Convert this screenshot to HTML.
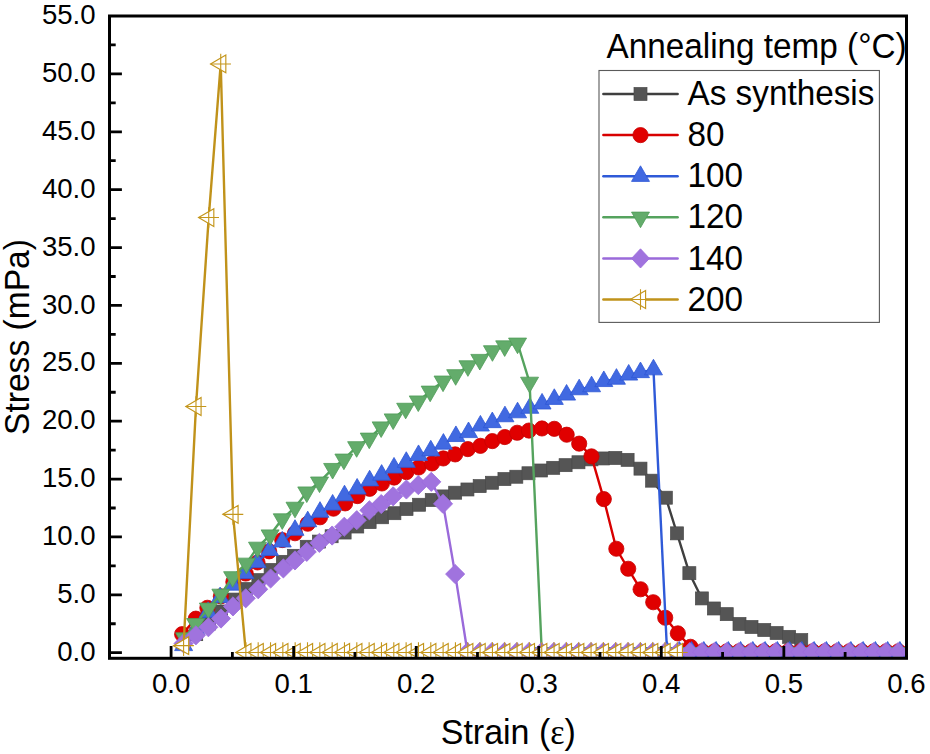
<!DOCTYPE html>
<html><head><meta charset="utf-8"><style>
html,body{margin:0;padding:0;background:#fff;font-family:"Liberation Sans", sans-serif;}
svg{display:block;}
</style></head><body>
<svg width="930" height="754" viewBox="0 0 930 754">
<rect width="930" height="754" fill="#fff"/>
<defs><clipPath id="pc"><rect x="111" y="17.5" width="794" height="639.3"/></clipPath></defs>
<g clip-path="url(#pc)">
<path d="M183.97 641.12 L196.22 634.18 L209.09 623.53 L220.98 611.49 L233.36 599.57 L245.73 589.03 L258.36 580.12 L270.61 569.93 L282.87 561.83 L294.02 555.81 L306.76 546.78 L318.9 541.57 L331.64 536.25 L344.63 532.54 L357.25 526.52 L369.63 522.12 L382.13 517.26 L394.39 513.21 L406.52 509.04 L419.14 504.76 L431.76 500.01 L443.41 496.42 L455.17 492.72 L467.43 489.48 L479.68 486.12 L491.94 482.76 L504.44 479.06 L516.32 476.74 L528.46 473.27 L540.96 470.49 L553.21 467.83 L565.59 465.17 L578.46 462.27 L591.45 459.38 L603.09 458.45 L615.34 457.99 L627.6 459.84 L640.47 468.64 L652.11 480.68 L665.83 497.7 L676.99 533.35 L689.36 573.17 L701.86 598.41 L713.87 608.48 L726.74 614.15 L739.49 623.99 L751.5 627 L764.24 630.01 L776.62 633.02 L789.12 636.84 L801.25 640.08" fill="none" stroke="#3f3f3f" stroke-width="2.4" stroke-linejoin="round"/>
<rect x="177.47" y="634.62" width="13" height="13" fill="#555555" stroke="#4a4a4a" stroke-width="0.7"/>
<rect x="189.72" y="627.68" width="13" height="13" fill="#555555" stroke="#4a4a4a" stroke-width="0.7"/>
<rect x="202.59" y="617.03" width="13" height="13" fill="#555555" stroke="#4a4a4a" stroke-width="0.7"/>
<rect x="214.48" y="604.99" width="13" height="13" fill="#555555" stroke="#4a4a4a" stroke-width="0.7"/>
<rect x="226.86" y="593.07" width="13" height="13" fill="#555555" stroke="#4a4a4a" stroke-width="0.7"/>
<rect x="239.23" y="582.53" width="13" height="13" fill="#555555" stroke="#4a4a4a" stroke-width="0.7"/>
<rect x="251.86" y="573.62" width="13" height="13" fill="#555555" stroke="#4a4a4a" stroke-width="0.7"/>
<rect x="264.11" y="563.43" width="13" height="13" fill="#555555" stroke="#4a4a4a" stroke-width="0.7"/>
<rect x="276.37" y="555.33" width="13" height="13" fill="#555555" stroke="#4a4a4a" stroke-width="0.7"/>
<rect x="287.52" y="549.31" width="13" height="13" fill="#555555" stroke="#4a4a4a" stroke-width="0.7"/>
<rect x="300.26" y="540.28" width="13" height="13" fill="#555555" stroke="#4a4a4a" stroke-width="0.7"/>
<rect x="312.4" y="535.07" width="13" height="13" fill="#555555" stroke="#4a4a4a" stroke-width="0.7"/>
<rect x="325.14" y="529.75" width="13" height="13" fill="#555555" stroke="#4a4a4a" stroke-width="0.7"/>
<rect x="338.13" y="526.04" width="13" height="13" fill="#555555" stroke="#4a4a4a" stroke-width="0.7"/>
<rect x="350.75" y="520.02" width="13" height="13" fill="#555555" stroke="#4a4a4a" stroke-width="0.7"/>
<rect x="363.13" y="515.62" width="13" height="13" fill="#555555" stroke="#4a4a4a" stroke-width="0.7"/>
<rect x="375.63" y="510.76" width="13" height="13" fill="#555555" stroke="#4a4a4a" stroke-width="0.7"/>
<rect x="387.89" y="506.71" width="13" height="13" fill="#555555" stroke="#4a4a4a" stroke-width="0.7"/>
<rect x="400.02" y="502.54" width="13" height="13" fill="#555555" stroke="#4a4a4a" stroke-width="0.7"/>
<rect x="412.64" y="498.26" width="13" height="13" fill="#555555" stroke="#4a4a4a" stroke-width="0.7"/>
<rect x="425.26" y="493.51" width="13" height="13" fill="#555555" stroke="#4a4a4a" stroke-width="0.7"/>
<rect x="436.91" y="489.92" width="13" height="13" fill="#555555" stroke="#4a4a4a" stroke-width="0.7"/>
<rect x="448.67" y="486.22" width="13" height="13" fill="#555555" stroke="#4a4a4a" stroke-width="0.7"/>
<rect x="460.93" y="482.98" width="13" height="13" fill="#555555" stroke="#4a4a4a" stroke-width="0.7"/>
<rect x="473.18" y="479.62" width="13" height="13" fill="#555555" stroke="#4a4a4a" stroke-width="0.7"/>
<rect x="485.44" y="476.26" width="13" height="13" fill="#555555" stroke="#4a4a4a" stroke-width="0.7"/>
<rect x="497.94" y="472.56" width="13" height="13" fill="#555555" stroke="#4a4a4a" stroke-width="0.7"/>
<rect x="509.82" y="470.24" width="13" height="13" fill="#555555" stroke="#4a4a4a" stroke-width="0.7"/>
<rect x="521.96" y="466.77" width="13" height="13" fill="#555555" stroke="#4a4a4a" stroke-width="0.7"/>
<rect x="534.46" y="463.99" width="13" height="13" fill="#555555" stroke="#4a4a4a" stroke-width="0.7"/>
<rect x="546.71" y="461.33" width="13" height="13" fill="#555555" stroke="#4a4a4a" stroke-width="0.7"/>
<rect x="559.09" y="458.67" width="13" height="13" fill="#555555" stroke="#4a4a4a" stroke-width="0.7"/>
<rect x="571.96" y="455.77" width="13" height="13" fill="#555555" stroke="#4a4a4a" stroke-width="0.7"/>
<rect x="584.95" y="452.88" width="13" height="13" fill="#555555" stroke="#4a4a4a" stroke-width="0.7"/>
<rect x="596.59" y="451.95" width="13" height="13" fill="#555555" stroke="#4a4a4a" stroke-width="0.7"/>
<rect x="608.84" y="451.49" width="13" height="13" fill="#555555" stroke="#4a4a4a" stroke-width="0.7"/>
<rect x="621.1" y="453.34" width="13" height="13" fill="#555555" stroke="#4a4a4a" stroke-width="0.7"/>
<rect x="633.97" y="462.14" width="13" height="13" fill="#555555" stroke="#4a4a4a" stroke-width="0.7"/>
<rect x="645.61" y="474.18" width="13" height="13" fill="#555555" stroke="#4a4a4a" stroke-width="0.7"/>
<rect x="659.33" y="491.2" width="13" height="13" fill="#555555" stroke="#4a4a4a" stroke-width="0.7"/>
<rect x="670.49" y="526.85" width="13" height="13" fill="#555555" stroke="#4a4a4a" stroke-width="0.7"/>
<rect x="682.86" y="566.67" width="13" height="13" fill="#555555" stroke="#4a4a4a" stroke-width="0.7"/>
<rect x="695.36" y="591.91" width="13" height="13" fill="#555555" stroke="#4a4a4a" stroke-width="0.7"/>
<rect x="707.37" y="601.98" width="13" height="13" fill="#555555" stroke="#4a4a4a" stroke-width="0.7"/>
<rect x="720.24" y="607.65" width="13" height="13" fill="#555555" stroke="#4a4a4a" stroke-width="0.7"/>
<rect x="732.99" y="617.49" width="13" height="13" fill="#555555" stroke="#4a4a4a" stroke-width="0.7"/>
<rect x="745" y="620.5" width="13" height="13" fill="#555555" stroke="#4a4a4a" stroke-width="0.7"/>
<rect x="757.74" y="623.51" width="13" height="13" fill="#555555" stroke="#4a4a4a" stroke-width="0.7"/>
<rect x="770.12" y="626.52" width="13" height="13" fill="#555555" stroke="#4a4a4a" stroke-width="0.7"/>
<rect x="782.62" y="630.34" width="13" height="13" fill="#555555" stroke="#4a4a4a" stroke-width="0.7"/>
<rect x="794.75" y="633.58" width="13" height="13" fill="#555555" stroke="#4a4a4a" stroke-width="0.7"/>
<path d="M182.13 634.18 L195.86 618.67 L207.37 607.79 L220.86 596.32 L233.36 581.97 L245.73 573.52 L257.5 562.41 L269.14 551.29 L282.25 540.07 L295 533.24 L307.74 523.74 L320 517.26 L333.48 508.69 L345.12 503.37 L357.38 496.08 L369.63 488.78 L381.89 483.46 L394.14 477.56 L406.4 472.11 L418.65 467.48 L432.01 463.43 L443.28 458.45 L455.17 454.4 L467.79 449.08 L480.42 445.84 L492.3 441.09 L504.8 437.04 L517.18 432.76 L528.95 430.56 L541.94 428.47 L554.31 428.82 L566.69 434.72 L579.19 443.64 L591.45 456.37 L603.82 499.09 L616.32 548.75 L628.21 568.77 L640.59 589.26 L653.21 602.23 L665.22 617.74 L677.84 633.37 L690.47 646.8 L702.35 651.31 L714.61 651.31 L726.86 651.31 L739.12 651.31 L751.37 651.31 L763.63 651.31 L775.88 651.31 L788.14 651.31 L800.39 651.31 L812.65 651.31 L824.9 651.31 L837.16 651.31 L849.41 651.31 L861.67 651.31 L873.92 651.31 L886.18 651.31 L898.43 651.31 L910.69 651.31 L922.94 651.31" fill="none" stroke="#d80000" stroke-width="2.4" stroke-linejoin="round"/>
<circle cx="182.13" cy="634.18" r="7.6" fill="#e00000" stroke="#c80000" stroke-width="0.8"/>
<circle cx="195.86" cy="618.67" r="7.6" fill="#e00000" stroke="#c80000" stroke-width="0.8"/>
<circle cx="207.37" cy="607.79" r="7.6" fill="#e00000" stroke="#c80000" stroke-width="0.8"/>
<circle cx="220.86" cy="596.32" r="7.6" fill="#e00000" stroke="#c80000" stroke-width="0.8"/>
<circle cx="233.36" cy="581.97" r="7.6" fill="#e00000" stroke="#c80000" stroke-width="0.8"/>
<circle cx="245.73" cy="573.52" r="7.6" fill="#e00000" stroke="#c80000" stroke-width="0.8"/>
<circle cx="257.5" cy="562.41" r="7.6" fill="#e00000" stroke="#c80000" stroke-width="0.8"/>
<circle cx="269.14" cy="551.29" r="7.6" fill="#e00000" stroke="#c80000" stroke-width="0.8"/>
<circle cx="282.25" cy="540.07" r="7.6" fill="#e00000" stroke="#c80000" stroke-width="0.8"/>
<circle cx="295" cy="533.24" r="7.6" fill="#e00000" stroke="#c80000" stroke-width="0.8"/>
<circle cx="307.74" cy="523.74" r="7.6" fill="#e00000" stroke="#c80000" stroke-width="0.8"/>
<circle cx="320" cy="517.26" r="7.6" fill="#e00000" stroke="#c80000" stroke-width="0.8"/>
<circle cx="333.48" cy="508.69" r="7.6" fill="#e00000" stroke="#c80000" stroke-width="0.8"/>
<circle cx="345.12" cy="503.37" r="7.6" fill="#e00000" stroke="#c80000" stroke-width="0.8"/>
<circle cx="357.38" cy="496.08" r="7.6" fill="#e00000" stroke="#c80000" stroke-width="0.8"/>
<circle cx="369.63" cy="488.78" r="7.6" fill="#e00000" stroke="#c80000" stroke-width="0.8"/>
<circle cx="381.89" cy="483.46" r="7.6" fill="#e00000" stroke="#c80000" stroke-width="0.8"/>
<circle cx="394.14" cy="477.56" r="7.6" fill="#e00000" stroke="#c80000" stroke-width="0.8"/>
<circle cx="406.4" cy="472.11" r="7.6" fill="#e00000" stroke="#c80000" stroke-width="0.8"/>
<circle cx="418.65" cy="467.48" r="7.6" fill="#e00000" stroke="#c80000" stroke-width="0.8"/>
<circle cx="432.01" cy="463.43" r="7.6" fill="#e00000" stroke="#c80000" stroke-width="0.8"/>
<circle cx="443.28" cy="458.45" r="7.6" fill="#e00000" stroke="#c80000" stroke-width="0.8"/>
<circle cx="455.17" cy="454.4" r="7.6" fill="#e00000" stroke="#c80000" stroke-width="0.8"/>
<circle cx="467.79" cy="449.08" r="7.6" fill="#e00000" stroke="#c80000" stroke-width="0.8"/>
<circle cx="480.42" cy="445.84" r="7.6" fill="#e00000" stroke="#c80000" stroke-width="0.8"/>
<circle cx="492.3" cy="441.09" r="7.6" fill="#e00000" stroke="#c80000" stroke-width="0.8"/>
<circle cx="504.8" cy="437.04" r="7.6" fill="#e00000" stroke="#c80000" stroke-width="0.8"/>
<circle cx="517.18" cy="432.76" r="7.6" fill="#e00000" stroke="#c80000" stroke-width="0.8"/>
<circle cx="528.95" cy="430.56" r="7.6" fill="#e00000" stroke="#c80000" stroke-width="0.8"/>
<circle cx="541.94" cy="428.47" r="7.6" fill="#e00000" stroke="#c80000" stroke-width="0.8"/>
<circle cx="554.31" cy="428.82" r="7.6" fill="#e00000" stroke="#c80000" stroke-width="0.8"/>
<circle cx="566.69" cy="434.72" r="7.6" fill="#e00000" stroke="#c80000" stroke-width="0.8"/>
<circle cx="579.19" cy="443.64" r="7.6" fill="#e00000" stroke="#c80000" stroke-width="0.8"/>
<circle cx="591.45" cy="456.37" r="7.6" fill="#e00000" stroke="#c80000" stroke-width="0.8"/>
<circle cx="603.82" cy="499.09" r="7.6" fill="#e00000" stroke="#c80000" stroke-width="0.8"/>
<circle cx="616.32" cy="548.75" r="7.6" fill="#e00000" stroke="#c80000" stroke-width="0.8"/>
<circle cx="628.21" cy="568.77" r="7.6" fill="#e00000" stroke="#c80000" stroke-width="0.8"/>
<circle cx="640.59" cy="589.26" r="7.6" fill="#e00000" stroke="#c80000" stroke-width="0.8"/>
<circle cx="653.21" cy="602.23" r="7.6" fill="#e00000" stroke="#c80000" stroke-width="0.8"/>
<circle cx="665.22" cy="617.74" r="7.6" fill="#e00000" stroke="#c80000" stroke-width="0.8"/>
<circle cx="677.84" cy="633.37" r="7.6" fill="#e00000" stroke="#c80000" stroke-width="0.8"/>
<circle cx="690.47" cy="646.8" r="7.6" fill="#e00000" stroke="#c80000" stroke-width="0.8"/>
<circle cx="702.35" cy="651.31" r="7.6" fill="#e00000" stroke="#c80000" stroke-width="0.8"/>
<circle cx="714.61" cy="651.31" r="7.6" fill="#e00000" stroke="#c80000" stroke-width="0.8"/>
<circle cx="726.86" cy="651.31" r="7.6" fill="#e00000" stroke="#c80000" stroke-width="0.8"/>
<circle cx="739.12" cy="651.31" r="7.6" fill="#e00000" stroke="#c80000" stroke-width="0.8"/>
<circle cx="751.37" cy="651.31" r="7.6" fill="#e00000" stroke="#c80000" stroke-width="0.8"/>
<circle cx="763.63" cy="651.31" r="7.6" fill="#e00000" stroke="#c80000" stroke-width="0.8"/>
<circle cx="775.88" cy="651.31" r="7.6" fill="#e00000" stroke="#c80000" stroke-width="0.8"/>
<circle cx="788.14" cy="651.31" r="7.6" fill="#e00000" stroke="#c80000" stroke-width="0.8"/>
<circle cx="800.39" cy="651.31" r="7.6" fill="#e00000" stroke="#c80000" stroke-width="0.8"/>
<circle cx="812.65" cy="651.31" r="7.6" fill="#e00000" stroke="#c80000" stroke-width="0.8"/>
<circle cx="824.9" cy="651.31" r="7.6" fill="#e00000" stroke="#c80000" stroke-width="0.8"/>
<circle cx="837.16" cy="651.31" r="7.6" fill="#e00000" stroke="#c80000" stroke-width="0.8"/>
<circle cx="849.41" cy="651.31" r="7.6" fill="#e00000" stroke="#c80000" stroke-width="0.8"/>
<circle cx="861.67" cy="651.31" r="7.6" fill="#e00000" stroke="#c80000" stroke-width="0.8"/>
<circle cx="873.92" cy="651.31" r="7.6" fill="#e00000" stroke="#c80000" stroke-width="0.8"/>
<circle cx="886.18" cy="651.31" r="7.6" fill="#e00000" stroke="#c80000" stroke-width="0.8"/>
<circle cx="898.43" cy="651.31" r="7.6" fill="#e00000" stroke="#c80000" stroke-width="0.8"/>
<circle cx="910.69" cy="651.31" r="7.6" fill="#e00000" stroke="#c80000" stroke-width="0.8"/>
<circle cx="922.94" cy="651.31" r="7.6" fill="#e00000" stroke="#c80000" stroke-width="0.8"/>
<path d="M183.6 645.41 L195.86 629.55 L208.11 612.18 L220.12 597.48 L232.62 584.98 L244.88 573.4 L257.13 562.41 L269.51 550.25 L282.25 541.8 L295 530.11 L307.74 521.54 L320 512.05 L332.62 504.87 L344.51 495.61 L357.13 488.9 L369.63 480.68 L381.64 475.01 L394.02 467.83 L406.27 462.16 L418.53 455.33 L430.78 450.7 L443.41 443.98 L455.91 436.34 L468.53 432.41 L480.42 425.81 L492.3 422.45 L504.93 416.55 L517.55 412.61 L529.8 408.1 L542.06 403.82 L554.31 399.19 L566.57 394.9 L579.19 389.58 L591.57 386.57 L603.82 381.36 L616.45 379.04 L628.7 374.88 L640.47 372.45 L653.46 369.67 L667.06 651.89 L679.31 651.89 L691.57 651.89 L703.82 651.89 L716.08 651.89 L728.33 651.89 L740.59 651.89 L752.84 651.89 L765.1 651.89 L777.35 651.89 L789.61 651.89 L801.86 651.89 L814.12 651.89 L826.37 651.89 L838.63 651.89 L850.88 651.89 L863.14 651.89 L875.39 651.89 L887.65 651.89 L899.9 651.89 L912.16 651.89" fill="none" stroke="#2f5ad8" stroke-width="2.4" stroke-linejoin="round"/>
<polygon points="183.6,635.01 192.6,650.61 174.6,650.61" fill="#4169e1" stroke="#2f58d6" stroke-width="0.8"/>
<polygon points="195.86,619.15 204.86,634.75 186.86,634.75" fill="#4169e1" stroke="#2f58d6" stroke-width="0.8"/>
<polygon points="208.11,601.78 217.11,617.38 199.11,617.38" fill="#4169e1" stroke="#2f58d6" stroke-width="0.8"/>
<polygon points="220.12,587.08 229.12,602.68 211.12,602.68" fill="#4169e1" stroke="#2f58d6" stroke-width="0.8"/>
<polygon points="232.62,574.58 241.62,590.18 223.62,590.18" fill="#4169e1" stroke="#2f58d6" stroke-width="0.8"/>
<polygon points="244.88,563 253.88,578.6 235.88,578.6" fill="#4169e1" stroke="#2f58d6" stroke-width="0.8"/>
<polygon points="257.13,552.01 266.13,567.61 248.13,567.61" fill="#4169e1" stroke="#2f58d6" stroke-width="0.8"/>
<polygon points="269.51,539.85 278.51,555.45 260.51,555.45" fill="#4169e1" stroke="#2f58d6" stroke-width="0.8"/>
<polygon points="282.25,531.4 291.25,547 273.25,547" fill="#4169e1" stroke="#2f58d6" stroke-width="0.8"/>
<polygon points="295,519.71 304,535.31 286,535.31" fill="#4169e1" stroke="#2f58d6" stroke-width="0.8"/>
<polygon points="307.74,511.14 316.74,526.74 298.74,526.74" fill="#4169e1" stroke="#2f58d6" stroke-width="0.8"/>
<polygon points="320,501.65 329,517.25 311,517.25" fill="#4169e1" stroke="#2f58d6" stroke-width="0.8"/>
<polygon points="332.62,494.47 341.62,510.07 323.62,510.07" fill="#4169e1" stroke="#2f58d6" stroke-width="0.8"/>
<polygon points="344.51,485.21 353.51,500.81 335.51,500.81" fill="#4169e1" stroke="#2f58d6" stroke-width="0.8"/>
<polygon points="357.13,478.5 366.13,494.1 348.13,494.1" fill="#4169e1" stroke="#2f58d6" stroke-width="0.8"/>
<polygon points="369.63,470.28 378.63,485.88 360.63,485.88" fill="#4169e1" stroke="#2f58d6" stroke-width="0.8"/>
<polygon points="381.64,464.61 390.64,480.21 372.64,480.21" fill="#4169e1" stroke="#2f58d6" stroke-width="0.8"/>
<polygon points="394.02,457.43 403.02,473.03 385.02,473.03" fill="#4169e1" stroke="#2f58d6" stroke-width="0.8"/>
<polygon points="406.27,451.76 415.27,467.36 397.27,467.36" fill="#4169e1" stroke="#2f58d6" stroke-width="0.8"/>
<polygon points="418.53,444.93 427.53,460.53 409.53,460.53" fill="#4169e1" stroke="#2f58d6" stroke-width="0.8"/>
<polygon points="430.78,440.3 439.78,455.9 421.78,455.9" fill="#4169e1" stroke="#2f58d6" stroke-width="0.8"/>
<polygon points="443.41,433.58 452.41,449.18 434.41,449.18" fill="#4169e1" stroke="#2f58d6" stroke-width="0.8"/>
<polygon points="455.91,425.94 464.91,441.54 446.91,441.54" fill="#4169e1" stroke="#2f58d6" stroke-width="0.8"/>
<polygon points="468.53,422.01 477.53,437.61 459.53,437.61" fill="#4169e1" stroke="#2f58d6" stroke-width="0.8"/>
<polygon points="480.42,415.41 489.42,431.01 471.42,431.01" fill="#4169e1" stroke="#2f58d6" stroke-width="0.8"/>
<polygon points="492.3,412.05 501.3,427.65 483.3,427.65" fill="#4169e1" stroke="#2f58d6" stroke-width="0.8"/>
<polygon points="504.93,406.15 513.93,421.75 495.93,421.75" fill="#4169e1" stroke="#2f58d6" stroke-width="0.8"/>
<polygon points="517.55,402.21 526.55,417.81 508.55,417.81" fill="#4169e1" stroke="#2f58d6" stroke-width="0.8"/>
<polygon points="529.8,397.7 538.8,413.3 520.8,413.3" fill="#4169e1" stroke="#2f58d6" stroke-width="0.8"/>
<polygon points="542.06,393.42 551.06,409.02 533.06,409.02" fill="#4169e1" stroke="#2f58d6" stroke-width="0.8"/>
<polygon points="554.31,388.79 563.31,404.39 545.31,404.39" fill="#4169e1" stroke="#2f58d6" stroke-width="0.8"/>
<polygon points="566.57,384.5 575.57,400.1 557.57,400.1" fill="#4169e1" stroke="#2f58d6" stroke-width="0.8"/>
<polygon points="579.19,379.18 588.19,394.78 570.19,394.78" fill="#4169e1" stroke="#2f58d6" stroke-width="0.8"/>
<polygon points="591.57,376.17 600.57,391.77 582.57,391.77" fill="#4169e1" stroke="#2f58d6" stroke-width="0.8"/>
<polygon points="603.82,370.96 612.82,386.56 594.82,386.56" fill="#4169e1" stroke="#2f58d6" stroke-width="0.8"/>
<polygon points="616.45,368.64 625.45,384.24 607.45,384.24" fill="#4169e1" stroke="#2f58d6" stroke-width="0.8"/>
<polygon points="628.7,364.48 637.7,380.08 619.7,380.08" fill="#4169e1" stroke="#2f58d6" stroke-width="0.8"/>
<polygon points="640.47,362.05 649.47,377.65 631.47,377.65" fill="#4169e1" stroke="#2f58d6" stroke-width="0.8"/>
<polygon points="653.46,359.27 662.46,374.87 644.46,374.87" fill="#4169e1" stroke="#2f58d6" stroke-width="0.8"/>
<polygon points="667.06,641.49 676.06,657.09 658.06,657.09" fill="#4169e1" stroke="#2f58d6" stroke-width="0.8"/>
<polygon points="679.31,641.49 688.31,657.09 670.31,657.09" fill="#4169e1" stroke="#2f58d6" stroke-width="0.8"/>
<polygon points="691.57,641.49 700.57,657.09 682.57,657.09" fill="#4169e1" stroke="#2f58d6" stroke-width="0.8"/>
<polygon points="703.82,641.49 712.82,657.09 694.82,657.09" fill="#4169e1" stroke="#2f58d6" stroke-width="0.8"/>
<polygon points="716.08,641.49 725.08,657.09 707.08,657.09" fill="#4169e1" stroke="#2f58d6" stroke-width="0.8"/>
<polygon points="728.33,641.49 737.33,657.09 719.33,657.09" fill="#4169e1" stroke="#2f58d6" stroke-width="0.8"/>
<polygon points="740.59,641.49 749.59,657.09 731.59,657.09" fill="#4169e1" stroke="#2f58d6" stroke-width="0.8"/>
<polygon points="752.84,641.49 761.84,657.09 743.84,657.09" fill="#4169e1" stroke="#2f58d6" stroke-width="0.8"/>
<polygon points="765.1,641.49 774.1,657.09 756.1,657.09" fill="#4169e1" stroke="#2f58d6" stroke-width="0.8"/>
<polygon points="777.35,641.49 786.35,657.09 768.35,657.09" fill="#4169e1" stroke="#2f58d6" stroke-width="0.8"/>
<polygon points="789.61,641.49 798.61,657.09 780.61,657.09" fill="#4169e1" stroke="#2f58d6" stroke-width="0.8"/>
<polygon points="801.86,641.49 810.86,657.09 792.86,657.09" fill="#4169e1" stroke="#2f58d6" stroke-width="0.8"/>
<polygon points="814.12,641.49 823.12,657.09 805.12,657.09" fill="#4169e1" stroke="#2f58d6" stroke-width="0.8"/>
<polygon points="826.37,641.49 835.37,657.09 817.37,657.09" fill="#4169e1" stroke="#2f58d6" stroke-width="0.8"/>
<polygon points="838.63,641.49 847.63,657.09 829.63,657.09" fill="#4169e1" stroke="#2f58d6" stroke-width="0.8"/>
<polygon points="850.88,641.49 859.88,657.09 841.88,657.09" fill="#4169e1" stroke="#2f58d6" stroke-width="0.8"/>
<polygon points="863.14,641.49 872.14,657.09 854.14,657.09" fill="#4169e1" stroke="#2f58d6" stroke-width="0.8"/>
<polygon points="875.39,641.49 884.39,657.09 866.39,657.09" fill="#4169e1" stroke="#2f58d6" stroke-width="0.8"/>
<polygon points="887.65,641.49 896.65,657.09 878.65,657.09" fill="#4169e1" stroke="#2f58d6" stroke-width="0.8"/>
<polygon points="899.9,641.49 908.9,657.09 890.9,657.09" fill="#4169e1" stroke="#2f58d6" stroke-width="0.8"/>
<polygon points="912.16,641.49 921.16,657.09 903.16,657.09" fill="#4169e1" stroke="#2f58d6" stroke-width="0.8"/>
<path d="M184.58 638 L195.61 623.76 L208.36 608.25 L220.86 594.36 L232.62 576.88 L246.35 563.33 L257.5 547.36 L270.12 535.09 L282.25 519 L295 507.42 L306.76 492.14 L319.51 482.19 L332.62 468.64 L343.9 459.27 L356.64 446.88 L369.26 438.31 L381.15 427.08 L393.16 419.1 L405.66 408.45 L418.28 401.15 L430.17 391.31 L443.04 381.24 L455.66 374.88 L467.92 365.96 L479.8 359.6 L492.43 350.91 L504.68 346.05 L517.55 343.27 L529.56 382.4 L541.81 652.7 L554.07 652.7 L566.32 652.7 L578.58 652.7 L590.83 652.7 L603.09 652.7 L615.34 652.7 L627.6 652.7 L639.85 652.7 L652.11 652.7 L664.36 652.7 L676.62 652.7 L688.87 652.7 L701.13 652.7 L713.38 652.7 L725.64 652.7 L737.89 652.7 L750.15 652.7 L762.4 652.7 L774.66 652.7 L786.91 652.7 L799.17 652.7 L811.42 652.7 L823.68 652.7 L835.93 652.7 L848.19 652.7 L860.44 652.7 L872.7 652.7 L884.95 652.7 L897.21 652.7 L909.46 652.7" fill="none" stroke="#55a35e" stroke-width="2.4" stroke-linejoin="round"/>
<polygon points="184.58,648.4 193.58,632.8 175.58,632.8" fill="#63ac6b" stroke="#4f9c58" stroke-width="0.8"/>
<polygon points="195.61,634.16 204.61,618.56 186.61,618.56" fill="#63ac6b" stroke="#4f9c58" stroke-width="0.8"/>
<polygon points="208.36,618.65 217.36,603.05 199.36,603.05" fill="#63ac6b" stroke="#4f9c58" stroke-width="0.8"/>
<polygon points="220.86,604.76 229.86,589.16 211.86,589.16" fill="#63ac6b" stroke="#4f9c58" stroke-width="0.8"/>
<polygon points="232.62,587.28 241.62,571.68 223.62,571.68" fill="#63ac6b" stroke="#4f9c58" stroke-width="0.8"/>
<polygon points="246.35,573.73 255.35,558.13 237.35,558.13" fill="#63ac6b" stroke="#4f9c58" stroke-width="0.8"/>
<polygon points="257.5,557.76 266.5,542.16 248.5,542.16" fill="#63ac6b" stroke="#4f9c58" stroke-width="0.8"/>
<polygon points="270.12,545.49 279.12,529.89 261.12,529.89" fill="#63ac6b" stroke="#4f9c58" stroke-width="0.8"/>
<polygon points="282.25,529.4 291.25,513.8 273.25,513.8" fill="#63ac6b" stroke="#4f9c58" stroke-width="0.8"/>
<polygon points="295,517.82 304,502.22 286,502.22" fill="#63ac6b" stroke="#4f9c58" stroke-width="0.8"/>
<polygon points="306.76,502.54 315.76,486.94 297.76,486.94" fill="#63ac6b" stroke="#4f9c58" stroke-width="0.8"/>
<polygon points="319.51,492.59 328.51,476.99 310.51,476.99" fill="#63ac6b" stroke="#4f9c58" stroke-width="0.8"/>
<polygon points="332.62,479.04 341.62,463.44 323.62,463.44" fill="#63ac6b" stroke="#4f9c58" stroke-width="0.8"/>
<polygon points="343.9,469.67 352.9,454.07 334.9,454.07" fill="#63ac6b" stroke="#4f9c58" stroke-width="0.8"/>
<polygon points="356.64,457.28 365.64,441.68 347.64,441.68" fill="#63ac6b" stroke="#4f9c58" stroke-width="0.8"/>
<polygon points="369.26,448.71 378.26,433.11 360.26,433.11" fill="#63ac6b" stroke="#4f9c58" stroke-width="0.8"/>
<polygon points="381.15,437.48 390.15,421.88 372.15,421.88" fill="#63ac6b" stroke="#4f9c58" stroke-width="0.8"/>
<polygon points="393.16,429.5 402.16,413.9 384.16,413.9" fill="#63ac6b" stroke="#4f9c58" stroke-width="0.8"/>
<polygon points="405.66,418.85 414.66,403.25 396.66,403.25" fill="#63ac6b" stroke="#4f9c58" stroke-width="0.8"/>
<polygon points="418.28,411.55 427.28,395.95 409.28,395.95" fill="#63ac6b" stroke="#4f9c58" stroke-width="0.8"/>
<polygon points="430.17,401.71 439.17,386.11 421.17,386.11" fill="#63ac6b" stroke="#4f9c58" stroke-width="0.8"/>
<polygon points="443.04,391.64 452.04,376.04 434.04,376.04" fill="#63ac6b" stroke="#4f9c58" stroke-width="0.8"/>
<polygon points="455.66,385.28 464.66,369.68 446.66,369.68" fill="#63ac6b" stroke="#4f9c58" stroke-width="0.8"/>
<polygon points="467.92,376.36 476.92,360.76 458.92,360.76" fill="#63ac6b" stroke="#4f9c58" stroke-width="0.8"/>
<polygon points="479.8,370 488.8,354.4 470.8,354.4" fill="#63ac6b" stroke="#4f9c58" stroke-width="0.8"/>
<polygon points="492.43,361.31 501.43,345.71 483.43,345.71" fill="#63ac6b" stroke="#4f9c58" stroke-width="0.8"/>
<polygon points="504.68,356.45 513.68,340.85 495.68,340.85" fill="#63ac6b" stroke="#4f9c58" stroke-width="0.8"/>
<polygon points="517.55,353.67 526.55,338.07 508.55,338.07" fill="#63ac6b" stroke="#4f9c58" stroke-width="0.8"/>
<polygon points="529.56,392.8 538.56,377.2 520.56,377.2" fill="#63ac6b" stroke="#4f9c58" stroke-width="0.8"/>
<polygon points="541.81,663.1 550.81,647.5 532.81,647.5" fill="#63ac6b" stroke="#4f9c58" stroke-width="0.8"/>
<polygon points="554.07,663.1 563.07,647.5 545.07,647.5" fill="#63ac6b" stroke="#4f9c58" stroke-width="0.8"/>
<polygon points="566.32,663.1 575.32,647.5 557.32,647.5" fill="#63ac6b" stroke="#4f9c58" stroke-width="0.8"/>
<polygon points="578.58,663.1 587.58,647.5 569.58,647.5" fill="#63ac6b" stroke="#4f9c58" stroke-width="0.8"/>
<polygon points="590.83,663.1 599.83,647.5 581.83,647.5" fill="#63ac6b" stroke="#4f9c58" stroke-width="0.8"/>
<polygon points="603.09,663.1 612.09,647.5 594.09,647.5" fill="#63ac6b" stroke="#4f9c58" stroke-width="0.8"/>
<polygon points="615.34,663.1 624.34,647.5 606.34,647.5" fill="#63ac6b" stroke="#4f9c58" stroke-width="0.8"/>
<polygon points="627.6,663.1 636.6,647.5 618.6,647.5" fill="#63ac6b" stroke="#4f9c58" stroke-width="0.8"/>
<polygon points="639.85,663.1 648.85,647.5 630.85,647.5" fill="#63ac6b" stroke="#4f9c58" stroke-width="0.8"/>
<polygon points="652.11,663.1 661.11,647.5 643.11,647.5" fill="#63ac6b" stroke="#4f9c58" stroke-width="0.8"/>
<polygon points="664.36,663.1 673.36,647.5 655.36,647.5" fill="#63ac6b" stroke="#4f9c58" stroke-width="0.8"/>
<polygon points="676.62,663.1 685.62,647.5 667.62,647.5" fill="#63ac6b" stroke="#4f9c58" stroke-width="0.8"/>
<polygon points="688.87,663.1 697.87,647.5 679.87,647.5" fill="#63ac6b" stroke="#4f9c58" stroke-width="0.8"/>
<polygon points="701.13,663.1 710.13,647.5 692.13,647.5" fill="#63ac6b" stroke="#4f9c58" stroke-width="0.8"/>
<polygon points="713.38,663.1 722.38,647.5 704.38,647.5" fill="#63ac6b" stroke="#4f9c58" stroke-width="0.8"/>
<polygon points="725.64,663.1 734.64,647.5 716.64,647.5" fill="#63ac6b" stroke="#4f9c58" stroke-width="0.8"/>
<polygon points="737.89,663.1 746.89,647.5 728.89,647.5" fill="#63ac6b" stroke="#4f9c58" stroke-width="0.8"/>
<polygon points="750.15,663.1 759.15,647.5 741.15,647.5" fill="#63ac6b" stroke="#4f9c58" stroke-width="0.8"/>
<polygon points="762.4,663.1 771.4,647.5 753.4,647.5" fill="#63ac6b" stroke="#4f9c58" stroke-width="0.8"/>
<polygon points="774.66,663.1 783.66,647.5 765.66,647.5" fill="#63ac6b" stroke="#4f9c58" stroke-width="0.8"/>
<polygon points="786.91,663.1 795.91,647.5 777.91,647.5" fill="#63ac6b" stroke="#4f9c58" stroke-width="0.8"/>
<polygon points="799.17,663.1 808.17,647.5 790.17,647.5" fill="#63ac6b" stroke="#4f9c58" stroke-width="0.8"/>
<polygon points="811.42,663.1 820.42,647.5 802.42,647.5" fill="#63ac6b" stroke="#4f9c58" stroke-width="0.8"/>
<polygon points="823.68,663.1 832.68,647.5 814.68,647.5" fill="#63ac6b" stroke="#4f9c58" stroke-width="0.8"/>
<polygon points="835.93,663.1 844.93,647.5 826.93,647.5" fill="#63ac6b" stroke="#4f9c58" stroke-width="0.8"/>
<polygon points="848.19,663.1 857.19,647.5 839.19,647.5" fill="#63ac6b" stroke="#4f9c58" stroke-width="0.8"/>
<polygon points="860.44,663.1 869.44,647.5 851.44,647.5" fill="#63ac6b" stroke="#4f9c58" stroke-width="0.8"/>
<polygon points="872.7,663.1 881.7,647.5 863.7,647.5" fill="#63ac6b" stroke="#4f9c58" stroke-width="0.8"/>
<polygon points="884.95,663.1 893.95,647.5 875.95,647.5" fill="#63ac6b" stroke="#4f9c58" stroke-width="0.8"/>
<polygon points="897.21,663.1 906.21,647.5 888.21,647.5" fill="#63ac6b" stroke="#4f9c58" stroke-width="0.8"/>
<polygon points="909.46,663.1 918.46,647.5 900.46,647.5" fill="#63ac6b" stroke="#4f9c58" stroke-width="0.8"/>
<path d="M183.6 643.44 L195.86 635.34 L208.36 627.23 L220.98 618.55 L232.99 606.4 L245.73 598.29 L258.23 589.26 L270.61 578.5 L283.36 568.43 L295 560.44 L306.76 551.87 L319.39 542.84 L332.13 535.55 L344.26 526.75 L356.76 520.15 L369.39 510.32 L381.27 504.06 L393.16 496.31 L406.4 489.48 L418.28 485.08 L431.27 481.84 L443.04 503.83 L455.17 574.1 L467.43 652.01 L479.68 652.01 L492.04 652.01 L504.41 652.01 L516.77 652.01 L529.13 652.01 L541.5 652.01 L553.86 652.01 L566.22 652.01 L578.59 652.01 L590.95 652.01 L603.31 652.01 L615.68 652.01 L628.04 652.01 L640.4 652.01 L652.76 652.01 L665.13 652.01 L677.49 652.01 L689.85 652.01 L702.11 652.01 L714.36 652.01 L726.62 652.01 L738.87 652.01 L751.13 652.01 L763.38 652.01 L775.64 652.01 L787.89 652.01 L800.15 652.01 L812.4 652.01 L824.66 652.01 L836.91 652.01 L849.17 652.01 L861.42 652.01 L873.68 652.01 L885.93 652.01 L898.19 652.01 L910.44 652.01 L922.7 652.01" fill="none" stroke="#9a6ada" stroke-width="2.4" stroke-linejoin="round"/>
<polygon points="183.6,633.84 193.2,643.44 183.6,653.04 174,643.44" fill="#a073de" stroke="#9c6cdd" stroke-width="0.8"/>
<polygon points="195.86,625.74 205.46,635.34 195.86,644.94 186.26,635.34" fill="#a073de" stroke="#9c6cdd" stroke-width="0.8"/>
<polygon points="208.36,617.63 217.96,627.23 208.36,636.83 198.76,627.23" fill="#a073de" stroke="#9c6cdd" stroke-width="0.8"/>
<polygon points="220.98,608.95 230.58,618.55 220.98,628.15 211.38,618.55" fill="#a073de" stroke="#9c6cdd" stroke-width="0.8"/>
<polygon points="232.99,596.8 242.59,606.4 232.99,616 223.39,606.4" fill="#a073de" stroke="#9c6cdd" stroke-width="0.8"/>
<polygon points="245.73,588.69 255.33,598.29 245.73,607.89 236.13,598.29" fill="#a073de" stroke="#9c6cdd" stroke-width="0.8"/>
<polygon points="258.23,579.66 267.83,589.26 258.23,598.86 248.63,589.26" fill="#a073de" stroke="#9c6cdd" stroke-width="0.8"/>
<polygon points="270.61,568.9 280.21,578.5 270.61,588.1 261.01,578.5" fill="#a073de" stroke="#9c6cdd" stroke-width="0.8"/>
<polygon points="283.36,558.83 292.96,568.43 283.36,578.03 273.76,568.43" fill="#a073de" stroke="#9c6cdd" stroke-width="0.8"/>
<polygon points="295,550.84 304.6,560.44 295,570.04 285.4,560.44" fill="#a073de" stroke="#9c6cdd" stroke-width="0.8"/>
<polygon points="306.76,542.27 316.36,551.87 306.76,561.47 297.16,551.87" fill="#a073de" stroke="#9c6cdd" stroke-width="0.8"/>
<polygon points="319.39,533.24 328.99,542.84 319.39,552.44 309.79,542.84" fill="#a073de" stroke="#9c6cdd" stroke-width="0.8"/>
<polygon points="332.13,525.95 341.73,535.55 332.13,545.15 322.53,535.55" fill="#a073de" stroke="#9c6cdd" stroke-width="0.8"/>
<polygon points="344.26,517.15 353.86,526.75 344.26,536.35 334.66,526.75" fill="#a073de" stroke="#9c6cdd" stroke-width="0.8"/>
<polygon points="356.76,510.55 366.36,520.15 356.76,529.75 347.16,520.15" fill="#a073de" stroke="#9c6cdd" stroke-width="0.8"/>
<polygon points="369.39,500.72 378.99,510.32 369.39,519.92 359.79,510.32" fill="#a073de" stroke="#9c6cdd" stroke-width="0.8"/>
<polygon points="381.27,494.46 390.87,504.06 381.27,513.66 371.67,504.06" fill="#a073de" stroke="#9c6cdd" stroke-width="0.8"/>
<polygon points="393.16,486.71 402.76,496.31 393.16,505.91 383.56,496.31" fill="#a073de" stroke="#9c6cdd" stroke-width="0.8"/>
<polygon points="406.4,479.88 416,489.48 406.4,499.08 396.8,489.48" fill="#a073de" stroke="#9c6cdd" stroke-width="0.8"/>
<polygon points="418.28,475.48 427.88,485.08 418.28,494.68 408.68,485.08" fill="#a073de" stroke="#9c6cdd" stroke-width="0.8"/>
<polygon points="431.27,472.24 440.87,481.84 431.27,491.44 421.67,481.84" fill="#a073de" stroke="#9c6cdd" stroke-width="0.8"/>
<polygon points="443.04,494.23 452.64,503.83 443.04,513.43 433.44,503.83" fill="#a073de" stroke="#9c6cdd" stroke-width="0.8"/>
<polygon points="455.17,564.5 464.77,574.1 455.17,583.7 445.57,574.1" fill="#a073de" stroke="#9c6cdd" stroke-width="0.8"/>
<polygon points="467.43,642.41 477.03,652.01 467.43,661.61 457.83,652.01" fill="#a073de" stroke="#9c6cdd" stroke-width="0.8"/>
<polygon points="479.68,642.41 489.28,652.01 479.68,661.61 470.08,652.01" fill="#a073de" stroke="#9c6cdd" stroke-width="0.8"/>
<polygon points="492.04,642.41 501.64,652.01 492.04,661.61 482.44,652.01" fill="#a073de" stroke="#9c6cdd" stroke-width="0.8"/>
<polygon points="504.41,642.41 514.01,652.01 504.41,661.61 494.81,652.01" fill="#a073de" stroke="#9c6cdd" stroke-width="0.8"/>
<polygon points="516.77,642.41 526.37,652.01 516.77,661.61 507.17,652.01" fill="#a073de" stroke="#9c6cdd" stroke-width="0.8"/>
<polygon points="529.13,642.41 538.73,652.01 529.13,661.61 519.53,652.01" fill="#a073de" stroke="#9c6cdd" stroke-width="0.8"/>
<polygon points="541.5,642.41 551.1,652.01 541.5,661.61 531.9,652.01" fill="#a073de" stroke="#9c6cdd" stroke-width="0.8"/>
<polygon points="553.86,642.41 563.46,652.01 553.86,661.61 544.26,652.01" fill="#a073de" stroke="#9c6cdd" stroke-width="0.8"/>
<polygon points="566.22,642.41 575.82,652.01 566.22,661.61 556.62,652.01" fill="#a073de" stroke="#9c6cdd" stroke-width="0.8"/>
<polygon points="578.59,642.41 588.19,652.01 578.59,661.61 568.99,652.01" fill="#a073de" stroke="#9c6cdd" stroke-width="0.8"/>
<polygon points="590.95,642.41 600.55,652.01 590.95,661.61 581.35,652.01" fill="#a073de" stroke="#9c6cdd" stroke-width="0.8"/>
<polygon points="603.31,642.41 612.91,652.01 603.31,661.61 593.71,652.01" fill="#a073de" stroke="#9c6cdd" stroke-width="0.8"/>
<polygon points="615.68,642.41 625.28,652.01 615.68,661.61 606.08,652.01" fill="#a073de" stroke="#9c6cdd" stroke-width="0.8"/>
<polygon points="628.04,642.41 637.64,652.01 628.04,661.61 618.44,652.01" fill="#a073de" stroke="#9c6cdd" stroke-width="0.8"/>
<polygon points="640.4,642.41 650,652.01 640.4,661.61 630.8,652.01" fill="#a073de" stroke="#9c6cdd" stroke-width="0.8"/>
<polygon points="652.76,642.41 662.36,652.01 652.76,661.61 643.16,652.01" fill="#a073de" stroke="#9c6cdd" stroke-width="0.8"/>
<polygon points="665.13,642.41 674.73,652.01 665.13,661.61 655.53,652.01" fill="#a073de" stroke="#9c6cdd" stroke-width="0.8"/>
<polygon points="677.49,642.41 687.09,652.01 677.49,661.61 667.89,652.01" fill="#a073de" stroke="#9c6cdd" stroke-width="0.8"/>
<polygon points="689.85,642.41 699.45,652.01 689.85,661.61 680.25,652.01" fill="#a073de" stroke="#9c6cdd" stroke-width="0.8"/>
<polygon points="702.11,642.41 711.71,652.01 702.11,661.61 692.51,652.01" fill="#a073de" stroke="#9c6cdd" stroke-width="0.8"/>
<polygon points="714.36,642.41 723.96,652.01 714.36,661.61 704.76,652.01" fill="#a073de" stroke="#9c6cdd" stroke-width="0.8"/>
<polygon points="726.62,642.41 736.22,652.01 726.62,661.61 717.02,652.01" fill="#a073de" stroke="#9c6cdd" stroke-width="0.8"/>
<polygon points="738.87,642.41 748.47,652.01 738.87,661.61 729.27,652.01" fill="#a073de" stroke="#9c6cdd" stroke-width="0.8"/>
<polygon points="751.13,642.41 760.73,652.01 751.13,661.61 741.53,652.01" fill="#a073de" stroke="#9c6cdd" stroke-width="0.8"/>
<polygon points="763.38,642.41 772.98,652.01 763.38,661.61 753.78,652.01" fill="#a073de" stroke="#9c6cdd" stroke-width="0.8"/>
<polygon points="775.64,642.41 785.24,652.01 775.64,661.61 766.04,652.01" fill="#a073de" stroke="#9c6cdd" stroke-width="0.8"/>
<polygon points="787.89,642.41 797.49,652.01 787.89,661.61 778.29,652.01" fill="#a073de" stroke="#9c6cdd" stroke-width="0.8"/>
<polygon points="800.15,642.41 809.75,652.01 800.15,661.61 790.55,652.01" fill="#a073de" stroke="#9c6cdd" stroke-width="0.8"/>
<polygon points="812.4,642.41 822,652.01 812.4,661.61 802.8,652.01" fill="#a073de" stroke="#9c6cdd" stroke-width="0.8"/>
<polygon points="824.66,642.41 834.26,652.01 824.66,661.61 815.06,652.01" fill="#a073de" stroke="#9c6cdd" stroke-width="0.8"/>
<polygon points="836.91,642.41 846.51,652.01 836.91,661.61 827.31,652.01" fill="#a073de" stroke="#9c6cdd" stroke-width="0.8"/>
<polygon points="849.17,642.41 858.77,652.01 849.17,661.61 839.57,652.01" fill="#a073de" stroke="#9c6cdd" stroke-width="0.8"/>
<polygon points="861.42,642.41 871.02,652.01 861.42,661.61 851.82,652.01" fill="#a073de" stroke="#9c6cdd" stroke-width="0.8"/>
<polygon points="873.68,642.41 883.28,652.01 873.68,661.61 864.08,652.01" fill="#a073de" stroke="#9c6cdd" stroke-width="0.8"/>
<polygon points="885.93,642.41 895.53,652.01 885.93,661.61 876.33,652.01" fill="#a073de" stroke="#9c6cdd" stroke-width="0.8"/>
<polygon points="898.19,642.41 907.79,652.01 898.19,661.61 888.59,652.01" fill="#a073de" stroke="#9c6cdd" stroke-width="0.8"/>
<polygon points="910.44,642.41 920.04,652.01 910.44,661.61 900.84,652.01" fill="#a073de" stroke="#9c6cdd" stroke-width="0.8"/>
<polygon points="922.7,642.41 932.3,652.01 922.7,661.61 913.1,652.01" fill="#a073de" stroke="#9c6cdd" stroke-width="0.8"/>
<path d="M183.6 645.64 L195.98 406.48 L208.72 217.56 L220.73 63.94 L232.99 514.37 L245.86 652.47 L258.18 652.47 L270.51 652.47 L282.84 652.47 L295.17 652.47 L307.5 652.47 L319.83 652.47 L332.16 652.47 L344.48 652.47 L356.81 652.47 L369.14 652.47 L381.47 652.47 L393.8 652.47 L406.13 652.47 L418.45 652.47 L430.78 652.47 L443.11 652.47 L455.44 652.47 L467.77 652.47 L480.1 652.47 L492.43 652.47 L504.75 652.47 L517.08 652.47 L529.41 652.47 L541.74 652.47 L554.07 652.47 L566.4 652.47 L578.73 652.47 L591.05 652.47 L603.38 652.47 L615.71 652.47 L628.04 652.47 L640.37 652.47 L652.7 652.47 L665.03 652.47 L677.35 652.47" fill="none" stroke="#c0921a" stroke-width="2.4" stroke-linejoin="round"/>
<polygon points="173.4,645.64 188.7,636.74 188.7,654.54" fill="#fff" stroke="#c4961c" stroke-width="1.15" stroke-linejoin="miter"/><path d="M173.4 645.64H193.9M183.6 635.34V655.94" stroke="#c4961c" stroke-width="1.1"/>
<polygon points="185.78,406.48 201.08,397.58 201.08,415.38" fill="#fff" stroke="#c4961c" stroke-width="1.15" stroke-linejoin="miter"/><path d="M185.78 406.48H206.28M195.98 396.18V416.78" stroke="#c4961c" stroke-width="1.1"/>
<polygon points="198.52,217.56 213.82,208.66 213.82,226.46" fill="#fff" stroke="#c4961c" stroke-width="1.15" stroke-linejoin="miter"/><path d="M198.52 217.56H219.02M208.72 207.26V227.86" stroke="#c4961c" stroke-width="1.1"/>
<polygon points="210.53,63.94 225.83,55.04 225.83,72.84" fill="#fff" stroke="#c4961c" stroke-width="1.15" stroke-linejoin="miter"/><path d="M210.53 63.94H231.03M220.73 53.64V74.24" stroke="#c4961c" stroke-width="1.1"/>
<polygon points="222.79,514.37 238.09,505.47 238.09,523.27" fill="#fff" stroke="#c4961c" stroke-width="1.15" stroke-linejoin="miter"/><path d="M222.79 514.37H243.29M232.99 504.07V524.67" stroke="#c4961c" stroke-width="1.1"/>
<polygon points="235.66,652.47 250.96,643.57 250.96,661.37" fill="#fff" stroke="#c4961c" stroke-width="1.15" stroke-linejoin="miter"/><path d="M235.66 652.47H256.16M245.86 642.17V662.77" stroke="#c4961c" stroke-width="1.1"/>
<polygon points="247.98,652.47 263.28,643.57 263.28,661.37" fill="#fff" stroke="#c4961c" stroke-width="1.15" stroke-linejoin="miter"/><path d="M247.98 652.47H268.48M258.18 642.17V662.77" stroke="#c4961c" stroke-width="1.1"/>
<polygon points="260.31,652.47 275.61,643.57 275.61,661.37" fill="#fff" stroke="#c4961c" stroke-width="1.15" stroke-linejoin="miter"/><path d="M260.31 652.47H280.81M270.51 642.17V662.77" stroke="#c4961c" stroke-width="1.1"/>
<polygon points="272.64,652.47 287.94,643.57 287.94,661.37" fill="#fff" stroke="#c4961c" stroke-width="1.15" stroke-linejoin="miter"/><path d="M272.64 652.47H293.14M282.84 642.17V662.77" stroke="#c4961c" stroke-width="1.1"/>
<polygon points="284.97,652.47 300.27,643.57 300.27,661.37" fill="#fff" stroke="#c4961c" stroke-width="1.15" stroke-linejoin="miter"/><path d="M284.97 652.47H305.47M295.17 642.17V662.77" stroke="#c4961c" stroke-width="1.1"/>
<polygon points="297.3,652.47 312.6,643.57 312.6,661.37" fill="#fff" stroke="#c4961c" stroke-width="1.15" stroke-linejoin="miter"/><path d="M297.3 652.47H317.8M307.5 642.17V662.77" stroke="#c4961c" stroke-width="1.1"/>
<polygon points="309.63,652.47 324.93,643.57 324.93,661.37" fill="#fff" stroke="#c4961c" stroke-width="1.15" stroke-linejoin="miter"/><path d="M309.63 652.47H330.13M319.83 642.17V662.77" stroke="#c4961c" stroke-width="1.1"/>
<polygon points="321.96,652.47 337.26,643.57 337.26,661.37" fill="#fff" stroke="#c4961c" stroke-width="1.15" stroke-linejoin="miter"/><path d="M321.96 652.47H342.46M332.16 642.17V662.77" stroke="#c4961c" stroke-width="1.1"/>
<polygon points="334.28,652.47 349.58,643.57 349.58,661.37" fill="#fff" stroke="#c4961c" stroke-width="1.15" stroke-linejoin="miter"/><path d="M334.28 652.47H354.78M344.48 642.17V662.77" stroke="#c4961c" stroke-width="1.1"/>
<polygon points="346.61,652.47 361.91,643.57 361.91,661.37" fill="#fff" stroke="#c4961c" stroke-width="1.15" stroke-linejoin="miter"/><path d="M346.61 652.47H367.11M356.81 642.17V662.77" stroke="#c4961c" stroke-width="1.1"/>
<polygon points="358.94,652.47 374.24,643.57 374.24,661.37" fill="#fff" stroke="#c4961c" stroke-width="1.15" stroke-linejoin="miter"/><path d="M358.94 652.47H379.44M369.14 642.17V662.77" stroke="#c4961c" stroke-width="1.1"/>
<polygon points="371.27,652.47 386.57,643.57 386.57,661.37" fill="#fff" stroke="#c4961c" stroke-width="1.15" stroke-linejoin="miter"/><path d="M371.27 652.47H391.77M381.47 642.17V662.77" stroke="#c4961c" stroke-width="1.1"/>
<polygon points="383.6,652.47 398.9,643.57 398.9,661.37" fill="#fff" stroke="#c4961c" stroke-width="1.15" stroke-linejoin="miter"/><path d="M383.6 652.47H404.1M393.8 642.17V662.77" stroke="#c4961c" stroke-width="1.1"/>
<polygon points="395.93,652.47 411.23,643.57 411.23,661.37" fill="#fff" stroke="#c4961c" stroke-width="1.15" stroke-linejoin="miter"/><path d="M395.93 652.47H416.43M406.13 642.17V662.77" stroke="#c4961c" stroke-width="1.1"/>
<polygon points="408.25,652.47 423.55,643.57 423.55,661.37" fill="#fff" stroke="#c4961c" stroke-width="1.15" stroke-linejoin="miter"/><path d="M408.25 652.47H428.75M418.45 642.17V662.77" stroke="#c4961c" stroke-width="1.1"/>
<polygon points="420.58,652.47 435.88,643.57 435.88,661.37" fill="#fff" stroke="#c4961c" stroke-width="1.15" stroke-linejoin="miter"/><path d="M420.58 652.47H441.08M430.78 642.17V662.77" stroke="#c4961c" stroke-width="1.1"/>
<polygon points="432.91,652.47 448.21,643.57 448.21,661.37" fill="#fff" stroke="#c4961c" stroke-width="1.15" stroke-linejoin="miter"/><path d="M432.91 652.47H453.41M443.11 642.17V662.77" stroke="#c4961c" stroke-width="1.1"/>
<polygon points="445.24,652.47 460.54,643.57 460.54,661.37" fill="#fff" stroke="#c4961c" stroke-width="1.15" stroke-linejoin="miter"/><path d="M445.24 652.47H465.74M455.44 642.17V662.77" stroke="#c4961c" stroke-width="1.1"/>
<polygon points="457.57,652.47 472.87,643.57 472.87,661.37" fill="#fff" stroke="#c4961c" stroke-width="1.15" stroke-linejoin="miter"/><path d="M457.57 652.47H478.07M467.77 642.17V662.77" stroke="#c4961c" stroke-width="1.1"/>
<polygon points="469.9,652.47 485.2,643.57 485.2,661.37" fill="#fff" stroke="#c4961c" stroke-width="1.15" stroke-linejoin="miter"/><path d="M469.9 652.47H490.4M480.1 642.17V662.77" stroke="#c4961c" stroke-width="1.1"/>
<polygon points="482.23,652.47 497.53,643.57 497.53,661.37" fill="#fff" stroke="#c4961c" stroke-width="1.15" stroke-linejoin="miter"/><path d="M482.23 652.47H502.73M492.43 642.17V662.77" stroke="#c4961c" stroke-width="1.1"/>
<polygon points="494.55,652.47 509.85,643.57 509.85,661.37" fill="#fff" stroke="#c4961c" stroke-width="1.15" stroke-linejoin="miter"/><path d="M494.55 652.47H515.05M504.75 642.17V662.77" stroke="#c4961c" stroke-width="1.1"/>
<polygon points="506.88,652.47 522.18,643.57 522.18,661.37" fill="#fff" stroke="#c4961c" stroke-width="1.15" stroke-linejoin="miter"/><path d="M506.88 652.47H527.38M517.08 642.17V662.77" stroke="#c4961c" stroke-width="1.1"/>
<polygon points="519.21,652.47 534.51,643.57 534.51,661.37" fill="#fff" stroke="#c4961c" stroke-width="1.15" stroke-linejoin="miter"/><path d="M519.21 652.47H539.71M529.41 642.17V662.77" stroke="#c4961c" stroke-width="1.1"/>
<polygon points="531.54,652.47 546.84,643.57 546.84,661.37" fill="#fff" stroke="#c4961c" stroke-width="1.15" stroke-linejoin="miter"/><path d="M531.54 652.47H552.04M541.74 642.17V662.77" stroke="#c4961c" stroke-width="1.1"/>
<polygon points="543.87,652.47 559.17,643.57 559.17,661.37" fill="#fff" stroke="#c4961c" stroke-width="1.15" stroke-linejoin="miter"/><path d="M543.87 652.47H564.37M554.07 642.17V662.77" stroke="#c4961c" stroke-width="1.1"/>
<polygon points="556.2,652.47 571.5,643.57 571.5,661.37" fill="#fff" stroke="#c4961c" stroke-width="1.15" stroke-linejoin="miter"/><path d="M556.2 652.47H576.7M566.4 642.17V662.77" stroke="#c4961c" stroke-width="1.1"/>
<polygon points="568.53,652.47 583.83,643.57 583.83,661.37" fill="#fff" stroke="#c4961c" stroke-width="1.15" stroke-linejoin="miter"/><path d="M568.53 652.47H589.03M578.73 642.17V662.77" stroke="#c4961c" stroke-width="1.1"/>
<polygon points="580.85,652.47 596.15,643.57 596.15,661.37" fill="#fff" stroke="#c4961c" stroke-width="1.15" stroke-linejoin="miter"/><path d="M580.85 652.47H601.35M591.05 642.17V662.77" stroke="#c4961c" stroke-width="1.1"/>
<polygon points="593.18,652.47 608.48,643.57 608.48,661.37" fill="#fff" stroke="#c4961c" stroke-width="1.15" stroke-linejoin="miter"/><path d="M593.18 652.47H613.68M603.38 642.17V662.77" stroke="#c4961c" stroke-width="1.1"/>
<polygon points="605.51,652.47 620.81,643.57 620.81,661.37" fill="#fff" stroke="#c4961c" stroke-width="1.15" stroke-linejoin="miter"/><path d="M605.51 652.47H626.01M615.71 642.17V662.77" stroke="#c4961c" stroke-width="1.1"/>
<polygon points="617.84,652.47 633.14,643.57 633.14,661.37" fill="#fff" stroke="#c4961c" stroke-width="1.15" stroke-linejoin="miter"/><path d="M617.84 652.47H638.34M628.04 642.17V662.77" stroke="#c4961c" stroke-width="1.1"/>
<polygon points="630.17,652.47 645.47,643.57 645.47,661.37" fill="#fff" stroke="#c4961c" stroke-width="1.15" stroke-linejoin="miter"/><path d="M630.17 652.47H650.67M640.37 642.17V662.77" stroke="#c4961c" stroke-width="1.1"/>
<polygon points="642.5,652.47 657.8,643.57 657.8,661.37" fill="#fff" stroke="#c4961c" stroke-width="1.15" stroke-linejoin="miter"/><path d="M642.5 652.47H663M652.7 642.17V662.77" stroke="#c4961c" stroke-width="1.1"/>
<polygon points="654.83,652.47 670.13,643.57 670.13,661.37" fill="#fff" stroke="#c4961c" stroke-width="1.15" stroke-linejoin="miter"/><path d="M654.83 652.47H675.33M665.03 642.17V662.77" stroke="#c4961c" stroke-width="1.1"/>
<polygon points="667.15,652.47 682.45,643.57 682.45,661.37" fill="#fff" stroke="#c4961c" stroke-width="1.15" stroke-linejoin="miter"/><path d="M667.15 652.47H687.65M677.35 642.17V662.77" stroke="#c4961c" stroke-width="1.1"/>
</g>
<path d="M171.1 658.3V646M293.65 658.3V646M416.2 658.3V646M538.75 658.3V646M661.3 658.3V646M783.85 658.3V646M906.4 658.3V646M232.38 658.3V652.1M354.93 658.3V652.1M477.48 658.3V652.1M600.03 658.3V652.1M722.58 658.3V652.1M845.13 658.3V652.1M109.5 652.7H121.9M109.5 594.82H121.9M109.5 536.94H121.9M109.5 479.06H121.9M109.5 421.18H121.9M109.5 363.3H121.9M109.5 305.42H121.9M109.5 247.54H121.9M109.5 189.66H121.9M109.5 131.78H121.9M109.5 73.9H121.9M109.5 623.76H115.7M109.5 565.88H115.7M109.5 508H115.7M109.5 450.12H115.7M109.5 392.24H115.7M109.5 334.36H115.7M109.5 276.48H115.7M109.5 218.6H115.7M109.5 160.72H115.7M109.5 102.84H115.7M109.5 44.96H115.7" stroke="#000" stroke-width="2.8" fill="none"/>
<rect x="109.5" y="16.0" width="797.0" height="642.3" fill="none" stroke="#000" stroke-width="3"/>
<g font-family="'Liberation Sans', sans-serif" font-size="27.6" fill="#000"><text x="95.6" y="660.8" text-anchor="end" transform="matrix(1 0 0 1.03 0 -19.82)">0.0</text><text x="95.6" y="602.92" text-anchor="end" transform="matrix(1 0 0 1.03 0 -18.09)">5.0</text><text x="95.6" y="545.04" text-anchor="end" transform="matrix(1 0 0 1.03 0 -16.35)">10.0</text><text x="95.6" y="487.16" text-anchor="end" transform="matrix(1 0 0 1.03 0 -14.61)">15.0</text><text x="95.6" y="429.28" text-anchor="end" transform="matrix(1 0 0 1.03 0 -12.88)">20.0</text><text x="95.6" y="371.4" text-anchor="end" transform="matrix(1 0 0 1.03 0 -11.14)">25.0</text><text x="95.6" y="313.52" text-anchor="end" transform="matrix(1 0 0 1.03 0 -9.41)">30.0</text><text x="95.6" y="255.64" text-anchor="end" transform="matrix(1 0 0 1.03 0 -7.67)">35.0</text><text x="95.6" y="197.76" text-anchor="end" transform="matrix(1 0 0 1.03 0 -5.93)">40.0</text><text x="95.6" y="139.88" text-anchor="end" transform="matrix(1 0 0 1.03 0 -4.2)">45.0</text><text x="95.6" y="82" text-anchor="end" transform="matrix(1 0 0 1.03 0 -2.46)">50.0</text><text x="95.6" y="24.12" text-anchor="end" transform="matrix(1 0 0 1.03 0 -0.72)">55.0</text><text x="171.1" y="692.8" text-anchor="middle" transform="matrix(1 0 0 1.03 0 -20.78)">0.0</text><text x="293.65" y="692.8" text-anchor="middle" transform="matrix(1 0 0 1.03 0 -20.78)">0.1</text><text x="416.2" y="692.8" text-anchor="middle" transform="matrix(1 0 0 1.03 0 -20.78)">0.2</text><text x="538.75" y="692.8" text-anchor="middle" transform="matrix(1 0 0 1.03 0 -20.78)">0.3</text><text x="661.3" y="692.8" text-anchor="middle" transform="matrix(1 0 0 1.03 0 -20.78)">0.4</text><text x="783.85" y="692.8" text-anchor="middle" transform="matrix(1 0 0 1.03 0 -20.78)">0.5</text><text x="906.4" y="692.8" text-anchor="middle" transform="matrix(1 0 0 1.03 0 -20.78)">0.6</text></g>
<text x="508.3" y="744.2" text-anchor="middle" font-family="'Liberation Sans', sans-serif" font-size="34" transform="matrix(1 0 0 1.03 0 -22.33)">Strain (<tspan font-family="'Liberation Serif', serif">ε</tspan>)</text>
<text transform="translate(28.5 337) rotate(-90) scale(1 1.03)" x="0" y="0" text-anchor="middle" font-family="'Liberation Sans', sans-serif" font-size="33.6">Stress (mPa)</text>
<rect x="599" y="70.5" width="280.4" height="251.9" fill="#fff" stroke="#5a5a5a" stroke-width="1.1"/>
<text x="606.5" y="58" font-family="'Liberation Sans', sans-serif" font-size="33.3" transform="matrix(1 0 0 1.03 0 -1.74)">Annealing temp (°C)</text>
<path d="M603.4 94H677.6" stroke="#3f3f3f" stroke-width="2.5" stroke-linecap="round"/>
<rect x="634" y="87.5" width="13" height="13" fill="#555555" stroke="#4a4a4a" stroke-width="0.7"/>
<text x="687.5" y="105.2" font-family="'Liberation Sans', sans-serif" font-size="33.3" transform="matrix(1 0 0 1.03 0 -3.16)">As synthesis</text>
<path d="M603.4 135.1H677.6" stroke="#d80000" stroke-width="2.5" stroke-linecap="round"/>
<circle cx="640.5" cy="135.1" r="7.6" fill="#e00000" stroke="#c80000" stroke-width="0.8"/>
<text x="687.5" y="146.3" font-family="'Liberation Sans', sans-serif" font-size="33.3" transform="matrix(1 0 0 1.03 0 -4.39)">80</text>
<path d="M603.4 176.2H677.6" stroke="#2f5ad8" stroke-width="2.5" stroke-linecap="round"/>
<polygon points="640.5,165.8 649.5,181.4 631.5,181.4" fill="#4169e1" stroke="#2f58d6" stroke-width="0.8"/>
<text x="687.5" y="187.4" font-family="'Liberation Sans', sans-serif" font-size="33.3" transform="matrix(1 0 0 1.03 0 -5.62)">100</text>
<path d="M603.4 217.3H677.6" stroke="#55a35e" stroke-width="2.5" stroke-linecap="round"/>
<polygon points="640.5,227.7 649.5,212.1 631.5,212.1" fill="#63ac6b" stroke="#4f9c58" stroke-width="0.8"/>
<text x="687.5" y="228.5" font-family="'Liberation Sans', sans-serif" font-size="33.3" transform="matrix(1 0 0 1.03 0 -6.86)">120</text>
<path d="M603.4 258.4H677.6" stroke="#9a6ada" stroke-width="2.5" stroke-linecap="round"/>
<polygon points="640.5,248.8 649.5,258.4 640.5,268 631.5,258.4" fill="#a073de" stroke="#9c6cdd" stroke-width="0.8"/>
<text x="687.5" y="269.6" font-family="'Liberation Sans', sans-serif" font-size="33.3" transform="matrix(1 0 0 1.03 0 -8.09)">140</text>
<path d="M603.4 299.5H677.6" stroke="#c0921a" stroke-width="2.5" stroke-linecap="round"/>
<polygon points="630.3,299.5 645.6,290.6 645.6,308.4" fill="#fff" stroke="#c4961c" stroke-width="1.15" stroke-linejoin="miter"/><path d="M630.3 299.5H650.8M640.5 289.2V309.8" stroke="#c4961c" stroke-width="1.1"/>
<text x="687.5" y="310.7" font-family="'Liberation Sans', sans-serif" font-size="33.3" transform="matrix(1 0 0 1.03 0 -9.32)">200</text>
</svg>
</body></html>
